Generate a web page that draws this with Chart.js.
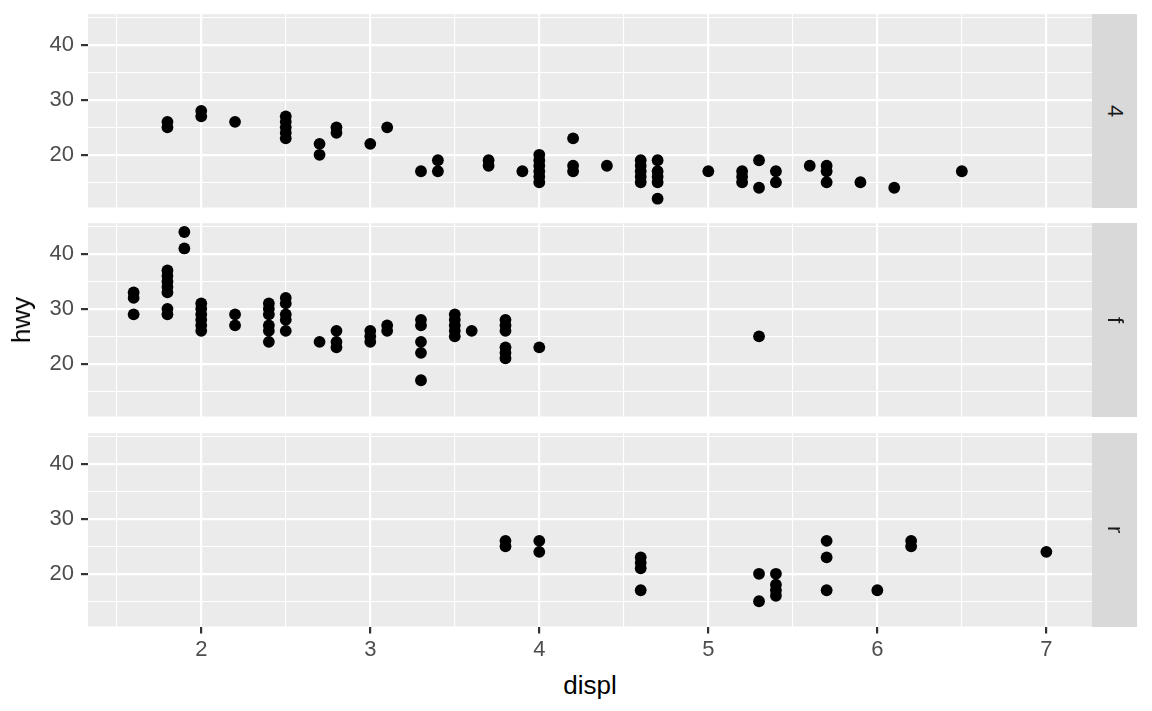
<!DOCTYPE html>
<html>
<head>
<meta charset="utf-8">
<script src="https://cdn.jsdelivr.net/npm/chart.js@4"></script>
<style>
  body { margin: 0; background: #fff; width: 1152px; height: 711px; overflow: hidden; position: relative; font-family: "Liberation Sans", Arial, sans-serif; }
  .wrap { position: absolute; left: 0; width: 1152px; }
  .strip { position: absolute; left: 1092px; width: 45px; background: #d9d9d9; color: #1a1a1a; font-size: 22px;
           display: flex; align-items: center; justify-content: center; }
  .strip span { writing-mode: vertical-rl; }
  .title { position: absolute; font-size: 26px; color: #000; line-height: 26px; white-space: nowrap; }
</style>
</head>
<body>
<div class="wrap" id="w0"><canvas id="c0"></canvas></div>
<div class="wrap" id="w1"><canvas id="c1"></canvas></div>
<div class="wrap" id="w2"><canvas id="c2"></canvas></div>
<div class="title" style="left:21px; top:320px; transform: translate(-50%,-50%) rotate(-90deg);">hwy</div>
<div class="title" style="left:590px; top:685px; transform: translate(-50%,-50%);">displ</div>
<script>
// facet labels (drv)
const facets = ["4", "f", "r"];

// drv = 4
const displ4 = [1.8, 1.8, 2.0, 2.0, 2.2, 2.5, 2.5, 2.5, 2.5, 2.5, 2.7, 2.7, 2.8, 2.8, 3.0, 3.1, 3.3, 3.4, 3.4,
  3.7, 3.7, 3.9, 4.0, 4.0, 4.0, 4.0, 4.0, 4.0, 4.2, 4.2, 4.2, 4.4, 4.6, 4.6, 4.6, 4.6, 4.6,
  4.7, 4.7, 4.7, 4.7, 4.7, 5.0, 5.2, 5.2, 5.2, 5.3, 5.3, 5.4, 5.4, 5.6, 5.7, 5.7, 5.7, 5.9, 6.1, 6.5];
const hwy4 = [25, 26, 27, 28, 26, 23, 24, 25, 26, 27, 20, 22, 24, 25, 22, 25, 17, 17, 19,
  18, 19, 17, 15, 16, 17, 18, 19, 20, 17, 18, 23, 18, 15, 16, 17, 18, 19,
  12, 15, 16, 17, 19, 17, 15, 16, 17, 14, 19, 15, 17, 18, 15, 17, 18, 15, 14, 17];

// drv = f
const displF = [1.6, 1.6, 1.6, 1.8, 1.8, 1.8, 1.8, 1.8, 1.8, 1.8, 1.9, 1.9, 2.0, 2.0, 2.0, 2.0, 2.0, 2.0,
  2.2, 2.2, 2.4, 2.4, 2.4, 2.4, 2.4, 2.4, 2.5, 2.5, 2.5, 2.5, 2.5, 2.7, 2.8, 2.8, 2.8,
  3.0, 3.0, 3.0, 3.1, 3.1, 3.3, 3.3, 3.3, 3.3, 3.3, 3.5, 3.5, 3.5, 3.5, 3.5, 3.6,
  3.8, 3.8, 3.8, 3.8, 3.8, 3.8, 4.0, 5.3];
const hwyF = [29, 32, 33, 29, 30, 33, 34, 35, 36, 37, 41, 44, 26, 27, 28, 29, 30, 31,
  27, 29, 24, 26, 27, 29, 30, 31, 26, 28, 29, 31, 32, 24, 23, 24, 26,
  24, 25, 26, 26, 27, 17, 22, 24, 27, 28, 25, 26, 27, 28, 29, 26,
  21, 22, 23, 26, 27, 28, 23, 25];

// drv = r
const displR = [3.8, 3.8, 4.0, 4.0, 4.6, 4.6, 4.6, 4.6, 5.3, 5.3, 5.4, 5.4, 5.4, 5.4, 5.7, 5.7, 5.7, 6.0, 6.2, 6.2, 7.0];
const hwyR = [25, 26, 24, 26, 17, 21, 22, 23, 15, 20, 16, 17, 18, 20, 17, 23, 26, 17, 25, 26, 24];

const xTicks = [1.5, 2, 2.5, 3, 3.5, 4, 4.5, 5, 5.5, 6, 6.5, 7];
const yTicks = [15, 20, 25, 30, 35, 40, 45];

const series = [[displ4, hwy4], [displF, hwyF], [displR, hwyR]];
const panelTop = [14, 223, 433];
const panelH = 193.5;

const panelBg = {
  id: "panelBg",
  beforeDraw(chart) {
    const a = chart.chartArea, c = chart.ctx;
    c.save();
    c.fillStyle = "#ebebeb";
    c.fillRect(a.left, a.top, a.right - a.left, a.bottom - a.top);
    c.restore();
  }
};

const isMajor = v => Math.abs(v - Math.round(v)) < 1e-9;
const tickFont = { family: "'Liberation Sans', Arial, sans-serif", size: 22 };

series.forEach(([xs, ys], i) => {
  const last = i === series.length - 1;
  const bottomSpace = last ? 40.5 : 20.5;
  const canvasH = 20 + panelH + bottomSpace;
  const wrap = document.getElementById("w" + i);
  wrap.style.top = (panelTop[i] - 20) + "px";
  wrap.style.height = canvasH + "px";
  const cv = document.getElementById("c" + i);
  cv.width = 1152; cv.height = canvasH;

  const strip = document.createElement("div");
  strip.className = "strip";
  strip.style.top = panelTop[i] + "px";
  strip.style.height = panelH + "px";
  strip.innerHTML = "<span>" + facets[i] + "</span>";
  document.body.appendChild(strip);

  new Chart(cv, {
    type: "scatter",
    data: {
      datasets: [{
        data: xs.map((x, k) => ({ x: x, y: ys[k] })),
        backgroundColor: "#000",
        borderWidth: 0,
        pointRadius: 5.9,
        pointHoverRadius: 5.9
      }]
    },
    plugins: [panelBg],
    options: {
      responsive: false,
      animation: false,
      devicePixelRatio: 1,
      layout: { padding: { top: 20, left: 0, right: 60, bottom: last ? 0 : 20.5 } },
      plugins: { legend: { display: false }, tooltip: { enabled: false } },
      scales: {
        x: {
          type: "linear",
          min: 1.33, max: 7.27,
          afterBuildTicks: s => { s.ticks = xTicks.map(v => ({ value: v })); },
          afterFit: s => { s.height = last ? 40.5 : 0; },
          border: { display: false },
          grid: {
            color: "#ffffff",
            lineWidth: c => (isMajor(c.tick.value) ? 2.2 : 1.1),
            drawTicks: last,
            tickLength: 7,
            tickWidth: 2.2,
            tickColor: c => (isMajor(c.tick.value) ? "#333333" : "rgba(0,0,0,0)")
          },
          ticks: {
            display: last,
            autoSkip: false,
            maxRotation: 0,
            padding: 3,
            color: "#4d4d4d",
            font: tickFont,
            callback: v => (isMajor(v) ? String(v) : "")
          }
        },
        y: {
          type: "linear",
          min: 10.4, max: 45.6,
          afterBuildTicks: s => { s.ticks = yTicks.map(v => ({ value: v })); },
          afterFit: s => { s.width = 88; },
          border: { display: false },
          grid: {
            color: "#ffffff",
            lineWidth: c => (c.tick.value % 10 === 0 ? 2.2 : 1.1),
            tickLength: 7,
            tickWidth: 2.2,
            tickColor: c => (c.tick.value % 10 === 0 ? "#333333" : "rgba(0,0,0,0)")
          },
          ticks: {
            autoSkip: false,
            padding: 7,
            color: "#4d4d4d",
            font: tickFont,
            callback: v => (v % 10 === 0 ? String(v) : "")
          }
        }
      }
    }
  });
});
</script>
</body>
</html>
